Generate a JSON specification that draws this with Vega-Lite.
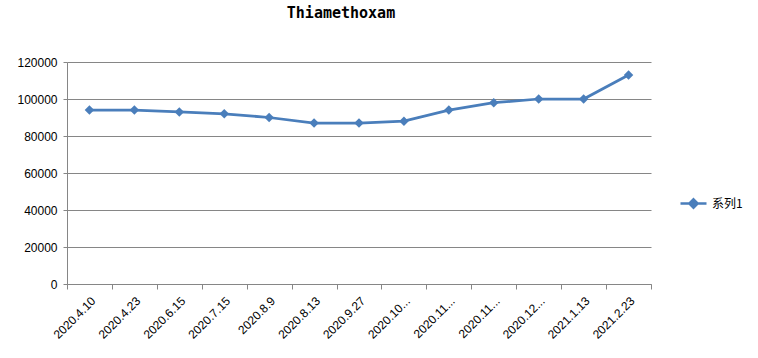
{
  "$schema": "https://vega.github.io/schema/vega-lite/v6.json",
  "width": 584,
  "height": 222,
  "autosize": {"type": "none"},
  "padding": {"left": 67, "top": 62, "right": 107, "bottom": 74},
  "background": "white",
  "title": {
    "text": "Thiamethoxam",
    "font": "DejaVu Sans Mono",
    "fontSize": 15,
    "fontWeight": "bold",
    "color": "black",
    "anchor": "middle",
    "dx": -18,
    "offset": 35
  },
  "data": {
    "values": [
      {"date": "2020.4.10", "value": 94000, "series": "系列1"},
      {"date": "2020.4.23", "value": 94000, "series": "系列1"},
      {"date": "2020.6.15", "value": 93000, "series": "系列1"},
      {"date": "2020.7.15", "value": 92000, "series": "系列1"},
      {"date": "2020.8.9", "value": 90000, "series": "系列1"},
      {"date": "2020.8.13", "value": 87000, "series": "系列1"},
      {"date": "2020.9.27", "value": 87000, "series": "系列1"},
      {"date": "2020.10...", "value": 88000, "series": "系列1"},
      {"date": "2020.11...", "value": 94000, "series": "系列1"},
      {"date": "2020.11... ", "value": 98000, "series": "系列1"},
      {"date": "2020.12...", "value": 100000, "series": "系列1"},
      {"date": "2021.1.13", "value": 100000, "series": "系列1"},
      {"date": "2021.2.23", "value": 113000, "series": "系列1"}
    ]
  },
  "mark": {
    "type": "line",
    "strokeWidth": 2.75,
    "point": {"shape": "diamond", "size": 90, "filled": true, "opacity": 1}
  },
  "encoding": {
    "x": {
      "field": "date",
      "type": "nominal",
      "sort": null,
      "scale": {"paddingInner": 0, "paddingOuter": 0},
      "axis": {
        "title": null,
        "labelAngle": -45,
        "labelFont": "Liberation Sans",
        "labelFontSize": 12,
        "labelColor": "black",
        "labelPadding": 6,
        "tickBand": "extent",
        "tickSize": 5,
        "tickColor": "#868686",
        "domainColor": "#868686",
        "labelLimit": 200
      }
    },
    "y": {
      "field": "value",
      "type": "quantitative",
      "scale": {"domain": [0, 120000], "nice": false},
      "axis": {
        "title": null,
        "values": [0, 20000, 40000, 60000, 80000, 100000, 120000],
        "format": "d",
        "labelFont": "Liberation Sans",
        "labelFontSize": 12,
        "labelColor": "black",
        "labelPadding": 6,
        "tickSize": 4,
        "tickColor": "#868686",
        "domainColor": "#868686",
        "grid": true,
        "gridColor": "#868686",
        "gridOpacity": 1
      }
    },
    "color": {
      "field": "series",
      "type": "nominal",
      "scale": {"range": ["#4a7ebb"]},
      "legend": {
        "title": null,
        "orient": "none",
        "legendX": 612,
        "legendY": 127,
        "symbolType": "M-1,0L1,0M0,-0.32L0.32,0L0,0.32L-0.32,0Z",
        "symbolSize": 676,
        "symbolStrokeWidth": 2.5,
        "symbolFillColor": "#4a7ebb",
        "labelFont": "Noto Sans CJK SC",
        "labelFontSize": 12,
        "labelColor": "black",
        "labelOffset": 4
      }
    }
  },
  "config": {
    "view": {"stroke": null}
  }
}
